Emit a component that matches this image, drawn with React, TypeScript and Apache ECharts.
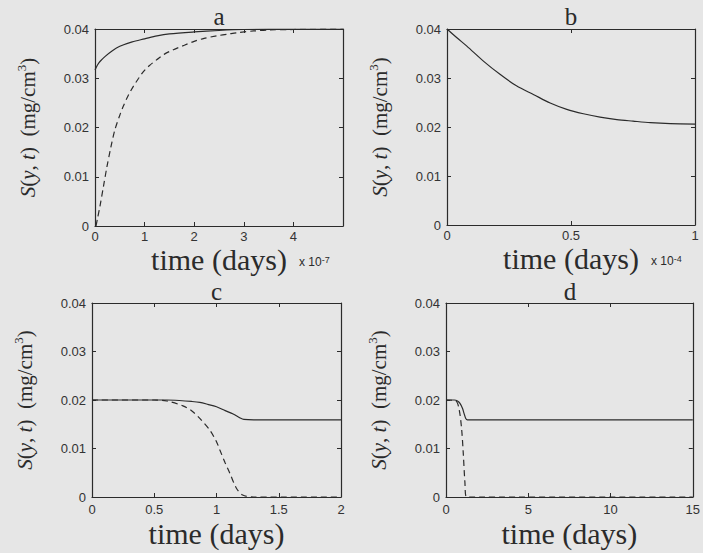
import React, { useEffect, useRef } from "react";
import * as echarts from "echarts";

// Panel a (x in units of 1e-7 days)
const aSolid: [number, number][] = [
  [0, 0.0317], [0.05, 0.0327], [0.1, 0.0334], [0.2, 0.0344], [0.35, 0.0356], [0.5, 0.0365],
  [0.75, 0.0374], [1, 0.038], [1.25, 0.0386], [1.5, 0.039], [2, 0.0394], [2.5, 0.0397],
  [3, 0.0399], [4, 0.04], [5, 0.04],
];
const aDashed: [number, number][] = [
  [0.02, 0], [0.05, 0.0015], [0.1, 0.004], [0.17, 0.008], [0.24, 0.012], [0.32, 0.016],
  [0.4, 0.0195], [0.5, 0.0225], [0.57, 0.0243], [0.67, 0.0265], [0.77, 0.0283], [0.88, 0.03],
  [0.98, 0.0314], [1.1, 0.0326], [1.25, 0.0338], [1.4, 0.0349], [1.58, 0.0358], [1.8, 0.0367],
  [2, 0.0375], [2.2, 0.0381], [2.45, 0.0386], [2.7, 0.039], [2.9, 0.0393], [3.2, 0.0396],
  [3.5, 0.0398], [4, 0.0399], [5, 0.04],
];
// Panel b (x in units of 1e-4 days)
const bSolid: [number, number][] = [
  [0, 0.04], [0.04, 0.0382], [0.08, 0.0365], [0.148, 0.0334], [0.215, 0.0307], [0.28, 0.0284],
  [0.35, 0.0266], [0.416, 0.0249], [0.483, 0.0236], [0.55, 0.0227], [0.617, 0.022],
  [0.685, 0.0215], [0.75, 0.0212], [0.82, 0.0209], [0.9, 0.0207], [1, 0.0206],
];
// Panel c (days)
const cSolid: [number, number][] = [
  [0, 0.02], [0.6, 0.02], [0.7, 0.0199], [0.8, 0.0197], [0.866, 0.0195], [0.93, 0.0191],
  [1.0, 0.0186], [1.07, 0.0178], [1.134, 0.0171], [1.19, 0.0163], [1.22, 0.016], [1.3, 0.0159],
  [2, 0.0159],
];
const cDashed: [number, number][] = [
  [0, 0.02], [0.5, 0.02], [0.6, 0.0198], [0.73, 0.0188], [0.8, 0.0178], [0.866, 0.0162],
  [0.946, 0.0138], [1.0, 0.0114], [1.027, 0.0097], [1.07, 0.007], [1.107, 0.0049],
  [1.16, 0.0018], [1.21, 0.0004], [1.3, 0], [2, 0],
];
// Panel d (days)
const dSolid: [number, number][] = [
  [0, 0.02], [0.5, 0.02], [0.7, 0.0198], [0.85, 0.0193], [1.0, 0.0183], [1.1, 0.0172],
  [1.2, 0.0162], [1.3, 0.0159], [15, 0.0159],
];
const dDashed: [number, number][] = [
  [0, 0.02], [0.6, 0.0198], [0.8, 0.018], [0.95, 0.014], [1.05, 0.009], [1.15, 0.003],
  [1.25, 0], [15, 0],
];

const yTicks = [0, 0.01, 0.02, 0.03, 0.04];
const xTicksA = [0, 1, 2, 3, 4];
const xTicksB = [0, 0.5, 1];
const xTicksC = [0, 0.5, 1, 1.5, 2];
const xTicksD = [0, 5, 10, 15];
const xMax = [5, 1, 2, 15];
const panelTitles = ["a", "b", "c", "d"];
const xTitle = "time (days)";
const xExponents = ["-7", "-4", "", ""];

const grids = [
  { left: 95, top: 29, width: 248, height: 197 },
  { left: 447, top: 29, width: 248, height: 196 },
  { left: 92, top: 303, width: 249, height: 194 },
  { left: 446, top: 303, width: 248, height: 194 },
];
const xNameGaps = [19, 19, 22, 22];
const labelMargins = [4, 4, 6, 6];
const titleOffsets = [2, 2, 1, 1];

const INK = "#2b2b2b";
const SERIF = "'Liberation Serif', 'Times New Roman', serif";
const SANS = "'Liberation Sans', Arial, sans-serif";

export default function App() {
  const ref = useRef<HTMLDivElement>(null);
  useEffect(() => {
    if (!ref.current) return;
    const chart = echarts.init(ref.current, null, { renderer: "svg" });
    const xTicksAll = [xTicksA, xTicksB, xTicksC, xTicksD];
    const seriesData = [
      [aSolid, aDashed],
      [bSolid],
      [cSolid, cDashed],
      [dSolid, dDashed],
    ];
    const xAxis: any[] = [];
    const yAxis: any[] = [];
    const series: any[] = [];
    const graphic: any[] = [];
    grids.forEach((g, i) => {
      const lineCommon = { show: true, lineStyle: { color: INK, width: 1.2 } };
      const tickCommon = { show: true, inside: true, length: 4, lineStyle: { color: INK, width: 1 } };
      xAxis.push({
        type: "value", gridIndex: i, min: 0, max: xMax[i], position: "bottom",
        axisLine: { ...lineCommon, onZero: false },
        axisTick: { ...tickCommon, customValues: xTicksAll[i] },
        axisLabel: { customValues: xTicksAll[i], color: "#333", fontFamily: SANS, fontSize: 13, margin: labelMargins[i] },
        splitLine: { show: false },
        name: xTitle, nameLocation: "middle", nameGap: xNameGaps[i],
        nameTextStyle: { fontFamily: SERIF, fontSize: 30, color: INK, verticalAlign: "top", lineHeight: 28 },
      });
      xAxis.push({
        type: "value", gridIndex: i, min: 0, max: xMax[i], position: "top",
        axisLine: { ...lineCommon, onZero: false },
        axisTick: { ...tickCommon, customValues: xTicksAll[i] },
        axisLabel: { show: false }, splitLine: { show: false },
      });
      yAxis.push({
        type: "value", gridIndex: i, min: 0, max: 0.04, position: "left",
        axisLine: { ...lineCommon, onZero: false },
        axisTick: { ...tickCommon, customValues: yTicks },
        axisLabel: { customValues: yTicks, color: "#333", fontFamily: SANS, fontSize: 13, margin: 6 },
        splitLine: { show: false },
        name: "{i|S}({i|y}, {i|t})  (mg/cm{s|3})",
        nameLocation: "middle", nameGap: 54,
        nameTextStyle: {
          fontFamily: SERIF, fontSize: 21, color: INK,
          rich: {
            i: { fontFamily: SERIF, fontSize: 21, fontStyle: "italic", color: INK },
            s: { fontFamily: SERIF, fontSize: 13, color: INK, verticalAlign: "top", lineHeight: 26 },
          },
        },
      });
      yAxis.push({
        type: "value", gridIndex: i, min: 0, max: 0.04, position: "right",
        axisLine: { ...lineCommon, onZero: false },
        axisTick: { ...tickCommon, customValues: yTicks },
        axisLabel: { show: false }, splitLine: { show: false },
      });
      seriesData[i].forEach((d, k) => {
        series.push({
          type: "line", xAxisIndex: 2 * i, yAxisIndex: 2 * i, data: d,
          showSymbol: false, symbol: "none", smooth: 0.3,
          lineStyle: { color: INK, width: 1.2, type: k === 0 ? "solid" : [6, 4] },
          silent: true,
        });
      });
      graphic.push({
        type: "text", x: g.left + g.width / 2, y: g.top - titleOffsets[i],
        style: {
          text: panelTitles[i], fontFamily: SERIF, fontSize: 25, lineHeight: 22, fill: INK,
          align: "center", verticalAlign: "bottom",
        },
      });
      if (xExponents[i]) {
        graphic.push({
          type: "text", x: g.left + g.width - 44, y: g.top + g.height + 29,
          style: {
            text: "x 10{s|" + xExponents[i] + "}",
            fontFamily: SANS, fontSize: 12, fill: INK, align: "left", verticalAlign: "top",
            rich: { s: { fontFamily: SANS, fontSize: 9, fill: INK, verticalAlign: "top", lineHeight: 14 } },
          },
        });
      }
    });
    chart.setOption({
      animation: false,
      backgroundColor: "#e6e6e6",
      grid: grids.map((g) => ({ ...g, containLabel: false })),
      xAxis, yAxis, series, graphic,
    });
    return () => chart.dispose();
  }, []);
  return (
    <div
      ref={ref}
      style={{ position: "fixed", left: 0, top: 0, width: 703, height: 553 }}
    />
  );
}
